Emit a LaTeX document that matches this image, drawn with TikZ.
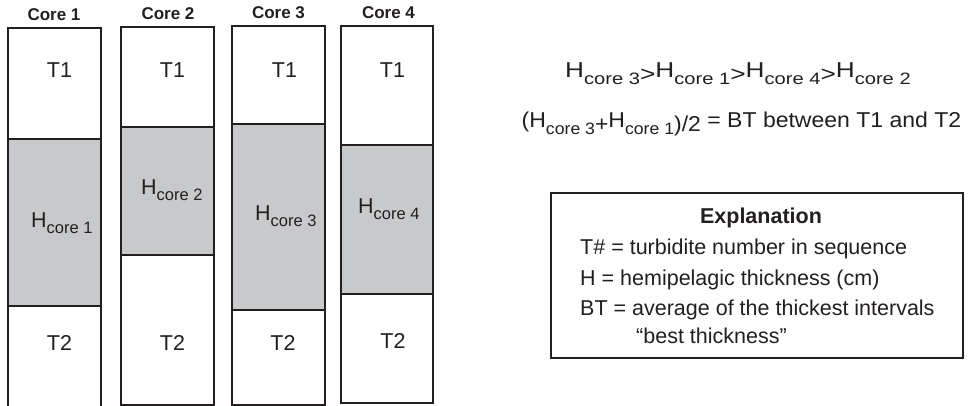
\documentclass[tikz,border=0pt]{standalone}
\usepackage{fontspec}
\setmainfont{Liberation Sans}
\definecolor{ink}{HTML}{231F20}
\definecolor{shadegray}{HTML}{C8C9CB}
\newcommand{\Hsub}[1]{H\raisebox{-6.5pt}{\fontsize{16.5}{18}\selectfont core #1}}
\newcommand{\lowr}[1]{\raisebox{-4pt}{#1}}
\begin{document}
\begin{tikzpicture}[x=1pt,y=-1pt,
  coreline/.style={draw=ink, line width=1.3pt},
  shadefill/.style={fill=shadegray},
  lbl/.style={font=\fontsize{21.5}{24}\selectfont, text=ink, inner sep=0pt, anchor=base},
  lblw/.style={lbl, anchor=base west},
  ttl/.style={font=\bfseries\fontsize{17}{20}\selectfont, text=ink, inner sep=0pt, anchor=base}]
\useasboundingbox (0,0) rectangle (971,406);
% Core 1 (open bottom)
\fill[shadefill] (8,139) rectangle (101,306);
\draw[coreline] (8,406) -- (8,28) -- (101,28) -- (101,406);
\draw[coreline] (8,139) -- (101,139) (8,306) -- (101,306);
% Core 2
\fill[shadefill] (121,127) rectangle (214,255);
\draw[coreline] (121,27) rectangle (214,405);
\draw[coreline] (121,127) -- (214,127) (121,255) -- (214,255);
% Core 3
\fill[shadefill] (232,124) rectangle (325,310);
\draw[coreline] (232,26) rectangle (325,405);
\draw[coreline] (232,124) -- (325,124) (232,310) -- (325,310);
% Core 4
\fill[shadefill] (341,145) rectangle (433,294);
\draw[coreline] (341,26) rectangle (433,403);
\draw[coreline] (341,145) -- (433,145) (341,294) -- (433,294);
% titles
\node[ttl] (c1) at (54,21) {Core 1};
\node[ttl] (c2) at (168,19.5) {Core 2};
\node[ttl] (c3) at (278.5,19) {Core 3};
\node[ttl] (c4) at (388.5,19) {Core 4};
% T labels
\node[lbl] (t11) at (59.5,78) {T1};
\node[lbl] (t12) at (172.5,78) {T1};
\node[lbl] (t13) at (284.5,78) {T1};
\node[lbl] (t14) at (392.5,78) {T1};
\node[lbl] (t21) at (59.5,350) {T2};
\node[lbl] (t22) at (172.5,350) {T2};
\node[lbl] (t23) at (283,350) {T2};
\node[lbl] (t24) at (393,348) {T2};
% H labels
\node[lblw] (h1) at (31,227) {\Hsub{1}};
\node[lblw] (h2) at (141,194) {\Hsub{2}};
\node[lblw] (h3) at (255,220) {\Hsub{3}};
\node[lblw] (h4) at (358,213) {\Hsub{4}};
% relations
\node[lblw] (rel1) at (565,78) {\scalebox{1.22}[1]{\Hsub{3}\lowr{>}\Hsub{1}\lowr{>}\Hsub{4}\lowr{>}\Hsub{2}}};
\node[lblw] (rel2) at (521.5,128) {\scalebox{1.07}[1]{(\Hsub{3}\lowr{+}\Hsub{1}\lowr{)/2} = BT between T1 and T2}};
% explanation box
\draw[coreline] (551,193) rectangle (963,358);
\node[lbl, font=\bfseries\fontsize{21.5}{24}\selectfont] (ex) at (761,223) {Explanation};
\node[lblw] (e1) at (580,254) {T\# = turbidite number in sequence};
\node[lblw] (e2) at (580,285) {H = hemipelagic thickness (cm)};
\node[lblw] (e3) at (580,315) {BT = average of the thickest intervals};
\node[lblw] (e4) at (636,343) {“best thickness”};
\end{tikzpicture}
\end{document}
